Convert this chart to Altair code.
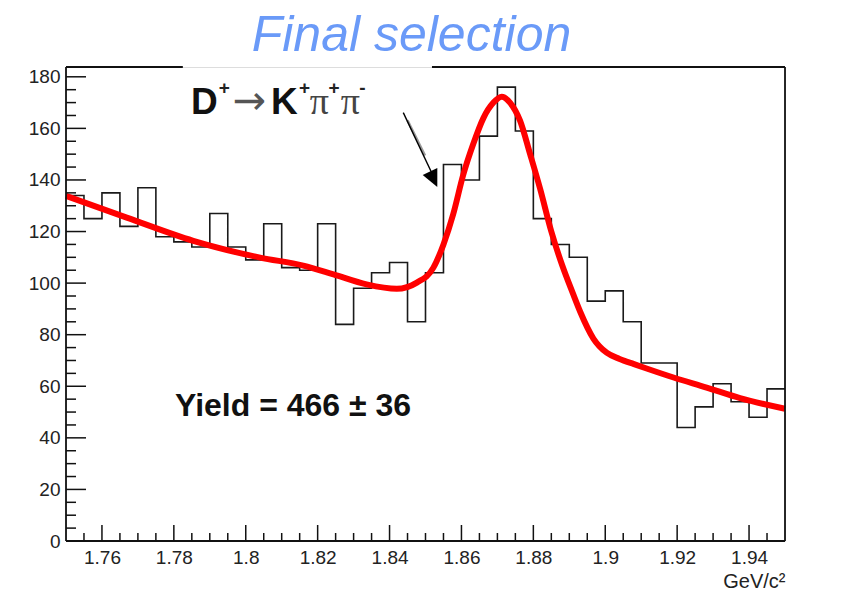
import altair as alt
import pandas as pd

# ---------------- data ----------------
bin_width = 0.005
mass_low = 1.75
counts = [134, 125, 135, 122, 137, 118, 116, 114, 127, 114,
          109, 123, 106, 105, 123, 84, 98, 104, 108, 85,
          104, 146, 140, 157, 176, 159, 125, 115, 110, 93,
          97, 85, 69, 69, 44, 52, 61, 54, 48, 59]

fit_mass = [1.7500, 1.7669, 1.7854, 1.8040, 1.8160, 1.8244, 1.8336, 1.8420,
            1.8476, 1.8522, 1.8550, 1.8577, 1.8605, 1.8633, 1.8661, 1.8689,
            1.8712, 1.8735, 1.8763, 1.8791, 1.8819, 1.8850, 1.8880, 1.8910,
            1.8930, 1.8967, 1.9004, 1.9040, 1.9080, 1.9115, 1.9190, 1.9282,
            1.9375, 1.9500]
fit_counts = [133.8, 125.4, 116.4, 109.9, 106.8, 103.4, 99.5, 97.8,
              100.2, 106.0, 115.0, 126.7, 142.0, 154.0, 164.0, 170.0,
              172.3, 170.0, 163.0, 150.0, 136.5, 120.0, 107.0, 96.0,
              89.0, 78.5, 73.0, 70.6, 68.6, 66.9, 63.4, 59.5,
              55.4, 51.3]

x_tick_labels = [1.76, 1.78, 1.80, 1.82, 1.84, 1.86, 1.88, 1.90, 1.92, 1.94]
y_tick_labels = [0, 20, 40, 60, 80, 100, 120, 140, 160, 180]

X_MIN, X_MAX = 1.75, 1.95
Y_MAX = 183.8

# ---------------- tables ----------------
edges = [round(mass_low + i * bin_width, 3) for i in range(len(counts) + 1)]
hist_df = pd.DataFrame({"mass": edges, "counts": counts + [counts[-1]]})
fit_df = pd.DataFrame({"mass": fit_mass, "counts": fit_counts})

x_minor = [round(X_MIN + i * bin_width, 3) for i in range(1, 40)]
x_minor = [v for v in x_minor if all(abs(v - m) > 1e-6 for m in x_tick_labels)]
y_minor = [v for v in range(5, 181, 5) if v % 20 != 0]

xs = alt.Scale(domain=[X_MIN, X_MAX], nice=False, zero=False)
ys = alt.Scale(domain=[0, Y_MAX], nice=False, zero=True)

x_axis = alt.Axis(values=x_tick_labels, format=".2~f", labelFontSize=19,
                  labelFont="Liberation Sans", labelColor="#222", labelPadding=7,
                  ticks=False, domain=False, grid=False, labelFlush=False,
                  title="GeV/c²", titleAnchor="end", titleFontSize=20,
                  titleFont="Liberation Sans", titleFontWeight="normal",
                  titleColor="#222", titlePadding=4)
y_axis = alt.Axis(values=y_tick_labels, labelFontSize=19, labelFont="Liberation Sans",
                  labelColor="#222", labelPadding=6, ticks=False, domain=False,
                  grid=False, title=None)


def X(field):
    return alt.X(f"{field}:Q", scale=xs, axis=x_axis)


def Y(field):
    return alt.Y(f"{field}:Q", scale=ys, axis=y_axis)


hist = alt.Chart(hist_df).mark_line(interpolate="step-after", color="#1a1a1a",
                                     strokeWidth=1.6).encode(
    x=X("mass"), y=Y("counts"))

fit = alt.Chart(fit_df).mark_line(interpolate="monotone", color="#ff0000",
                                   strokeWidth=6).encode(
    x=X("mass"), y=Y("counts"))

# frame (top edge interrupted by the label box, as in the reference)
frame_df = pd.DataFrame({
    "x": [X_MIN, X_MAX, X_MIN, X_MIN, 1.8518],
    "x2": [X_MIN, X_MAX, X_MAX, 1.7825, X_MAX],
    "y": [0, 0, 0, Y_MAX, Y_MAX],
    "y2": [Y_MAX, Y_MAX, 0, Y_MAX, Y_MAX],
})
frame = alt.Chart(frame_df).mark_rule(color="#111", strokeWidth=1.8).encode(
    x=X("x"), x2="x2:Q", y=Y("y"), y2="y2:Q")

# inward ticks
ymaj = alt.Chart(pd.DataFrame({"v": y_tick_labels})).mark_rule(
    color="#111", strokeWidth=1.5).encode(y=Y("v"), x=alt.value(0), x2=alt.value(20))
ymin = alt.Chart(pd.DataFrame({"v": y_minor})).mark_rule(
    color="#111", strokeWidth=1.5).encode(y=Y("v"), x=alt.value(0), x2=alt.value(10))
xmaj = alt.Chart(pd.DataFrame({"v": x_tick_labels})).mark_rule(
    color="#111", strokeWidth=1.5).encode(x=X("v"), y=alt.value(474 - 16), y2=alt.value(474))
xmin = alt.Chart(pd.DataFrame({"v": x_minor})).mark_rule(
    color="#111", strokeWidth=1.5).encode(x=X("v"), y=alt.value(474 - 8), y2=alt.value(474))

# title above the frame
title_df = pd.DataFrame({"x": [1.8461], "y": [190.0], "t": ["Final selection"]})
title_txt = alt.Chart(title_df).mark_text(
    align="center", baseline="alphabetic", fontSize=50, fontStyle="italic",
    font="Liberation Sans", color="#6a9af8").encode(x=X("x"), y=Y("y"), text="t:N")

# annotation: D+ -> K+ pi+ pi-
big_df = pd.DataFrame({"x": [1.78477, 1.80702], "y": [165.6, 165.6], "t": ["D", "K"]})
big = alt.Chart(big_df).mark_text(
    align="left", baseline="alphabetic", fontSize=37, fontWeight="bold",
    font="Liberation Sans", color="#111").encode(x=X("x"), y=Y("y"), text="t:N")

sup_df = pd.DataFrame({"x": [1.79250, 1.81480, 1.82300, 1.83160],
                       "y": [173.2, 173.2, 173.2, 173.2],
                       "t": ["+", "+", "+", "-"]})
sup = alt.Chart(sup_df).mark_text(
    align="left", baseline="alphabetic", fontSize=19, fontWeight="bold",
    font="Liberation Sans", color="#222").encode(x=X("x"), y=Y("y"), text="t:N")

pi_df = pd.DataFrame({"x": [1.81780, 1.82640], "y": [165.6, 165.6], "t": ["π", "π"]})
pis = alt.Chart(pi_df).mark_text(
    align="left", baseline="alphabetic", fontSize=38, font="Liberation Serif",
    color="#444").encode(x=X("x"), y=Y("y"), text="t:N")

arr_df = pd.DataFrame({"x": [1.79640], "y": [165.6], "t": ["→"]})
arr_txt = alt.Chart(arr_df).mark_text(
    align="left", baseline="alphabetic", fontSize=40, font="DejaVu Sans",
    color="#555").encode(x=X("x"), y=Y("y"), text="t:N")

# arrow to the peak
shadow_df = pd.DataFrame({"x": [1.84499], "y": [163.1], "x2": [1.84986], "y2": [149.5]})
shadow = alt.Chart(shadow_df).mark_rule(color="#9a9a9a", strokeWidth=2.5).encode(
    x=X("x"), y=Y("y"), x2="x2:Q", y2="y2:Q")
line_df = pd.DataFrame({"x": [1.84382], "y": [166.1], "x2": [1.85300], "y2": [139.0]})
arrow_line = alt.Chart(line_df).mark_rule(color="#000", strokeWidth=1.4).encode(
    x=X("x"), y=Y("y"), x2="x2:Q", y2="y2:Q")
head_df = pd.DataFrame({"x": [1.85328], "y": [137.3]})
head = alt.Chart(head_df).mark_point(
    shape="M0,0L0.95,2L-0.95,2Z", filled=True, size=290, angle=154.7,
    color="#000", opacity=1, strokeWidth=0).encode(x=X("x"), y=Y("y"))

# yield label
yield_df = pd.DataFrame({"x": [1.78032], "y": [48.5], "t": ["Yield = 466 ± 36"]})
yield_txt = alt.Chart(yield_df).mark_text(
    align="left", baseline="alphabetic", fontSize=32, fontWeight="bold",
    font="Liberation Sans", color="#111").encode(x=X("x"), y=Y("y"), text="t:N")

chart = alt.layer(
    hist, fit, frame, ymaj, ymin, xmaj, xmin, title_txt,
    big, sup, pis, arr_txt, shadow, arrow_line, head, yield_txt
).properties(
    width=719, height=474,
    padding={"left": 58, "top": 59, "right": 53, "bottom": 56},
    autosize=alt.AutoSizeParams(type="none"),
).configure_view(stroke="transparent", strokeWidth=0, strokeOpacity=0
).configure(background="white")

chart.save("out.html", embed_options={"renderer": "svg", "actions": False})
